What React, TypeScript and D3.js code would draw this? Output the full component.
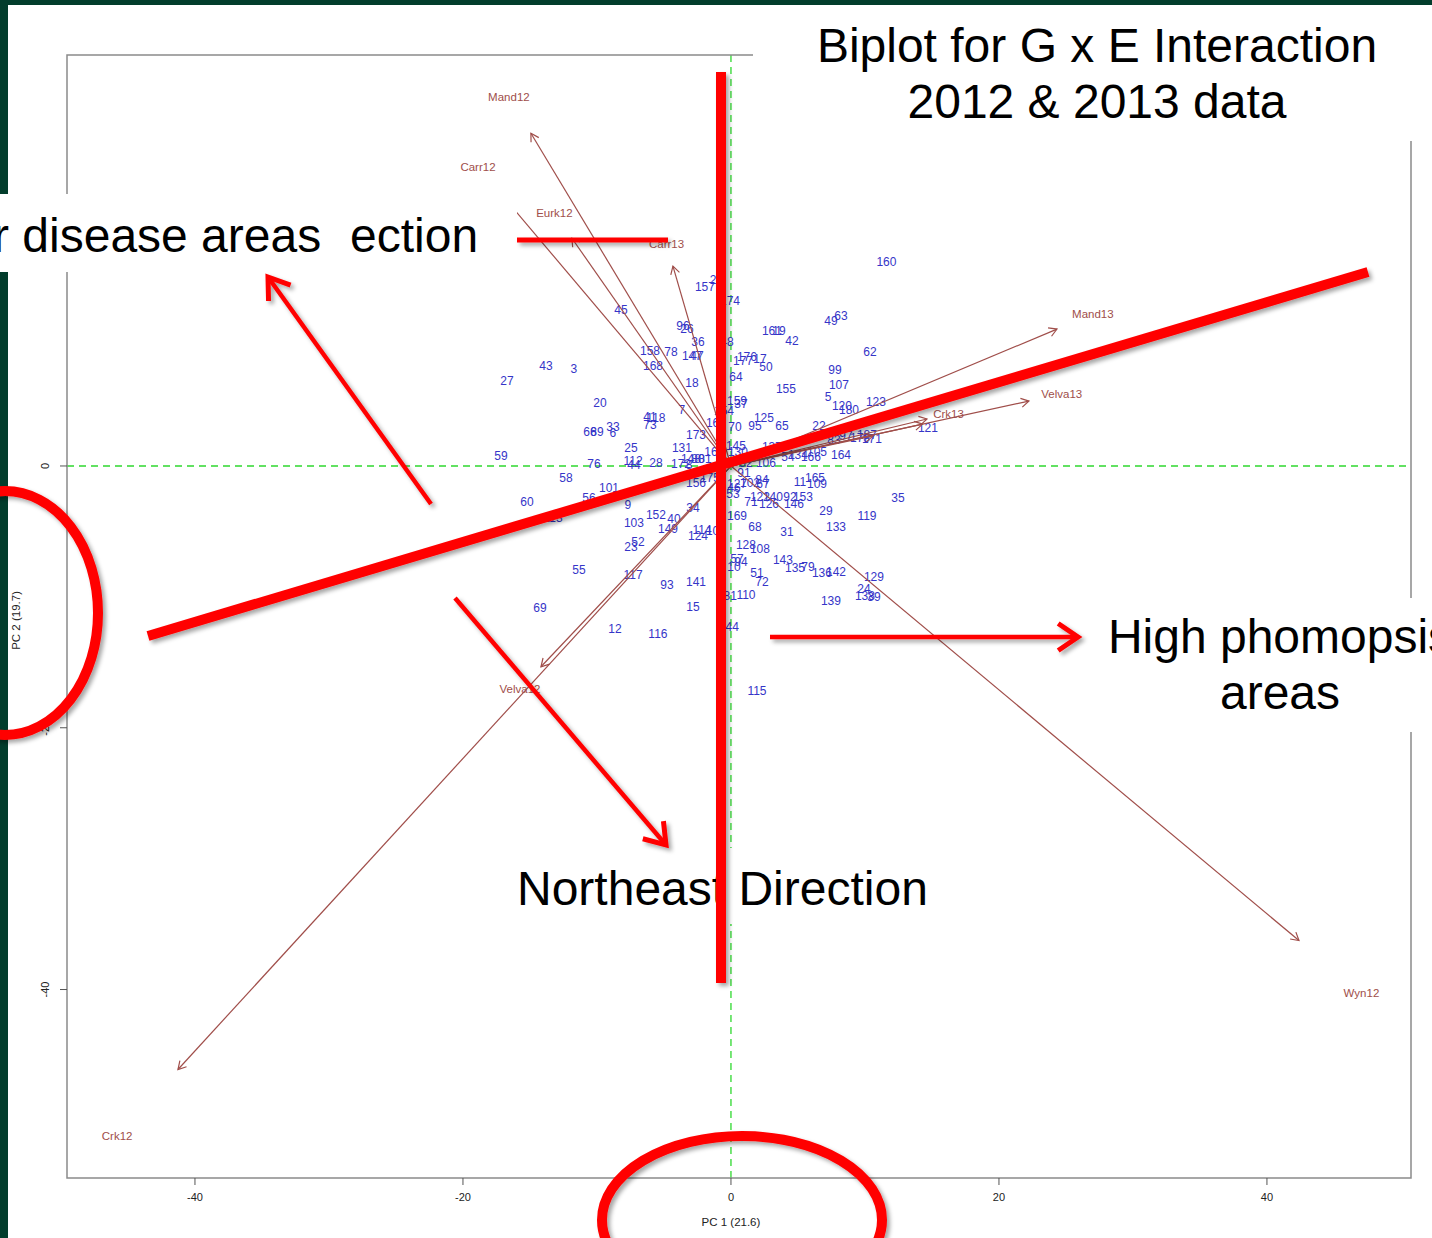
import React, { useRef, useEffect } from "react";
import * as d3 from "d3";

// genotype scores: [label, PC1, PC2]
const genotypes: [string, number, number][] = [
  ["160", 11.6, 15.6], ["157", -1.94, 13.66], ["2", -1.34, 14.2], ["174", -0.07, 12.6],
  ["45", -8.21, 11.91], ["49", 7.46, 11.07], ["63", 8.21, 11.45], ["161", 3.06, 10.31],
  ["19", 3.58, 10.31], ["96", -3.58, 10.69], ["26", -3.28, 10.46], ["42", 4.55, 9.54],
  ["36", -2.46, 9.47], ["48", -0.3, 9.47], ["62", 10.37, 8.7], ["158", -6.04, 8.78],
  ["78", -4.48, 8.7], ["147", -2.91, 8.4], ["47", -2.54, 8.4], ["176", 1.19, 8.32],
  ["177", 0.9, 8.02], ["17", 2.16, 8.17], ["50", 2.61, 7.56], ["168", -5.82, 7.63],
  ["43", -13.81, 7.63], ["3", -11.72, 7.4], ["99", 7.76, 7.33], ["27", -16.72, 6.49],
  ["64", 0.37, 6.79], ["18", -2.91, 6.34], ["155", 4.1, 5.88], ["107", 8.06, 6.18],
  ["5", 7.24, 5.27], ["159", 0.45, 4.96], ["37", 0.75, 4.73], ["20", -9.78, 4.81],
  ["120", 8.28, 4.58], ["180", 8.81, 4.27], ["123", 10.82, 4.89], ["154", -0.52, 4.2],
  ["7", -3.66, 4.27], ["41", -6.04, 3.74], ["118", -5.6, 3.66], ["73", -6.04, 3.13],
  ["125", 2.46, 3.66], ["95", 1.79, 3.05], ["65", 3.81, 3.05], ["70", 0.3, 2.98],
  ["163", -1.12, 3.28], ["33", -8.81, 2.98], ["6", -8.81, 2.52], ["66", -10.52, 2.6],
  ["89", -10.0, 2.6], ["22", 6.57, 3.05], ["173", -2.61, 2.37], ["83", 7.69, 1.98],
  ["97", 8.58, 2.29], ["187", 10.15, 2.37], ["178", 9.63, 2.14], ["171", 10.52, 2.06],
  ["121", 14.7, 2.9], ["25", -7.46, 1.37], ["131", -3.66, 1.37], ["16", -1.49, 1.07],
  ["145", 0.37, 1.53], ["130", 0.52, 1.07], ["137", 3.06, 1.45], ["54", 4.25, 0.69],
  ["134", 5.0, 0.84], ["166", 5.97, 0.69], ["105", 6.42, 1.07], ["164", 8.21, 0.84],
  ["59", -17.16, 0.76], ["76", -10.22, 0.15], ["112", -7.31, 0.38], ["44", -7.24, 0.08],
  ["28", -5.6, 0.23], ["172", -3.73, 0.15], ["148", -2.99, 0.53], ["80", -2.46, 0.53],
  ["81", -1.94, 0.53], ["8", -3.13, 0.08], ["106", 2.61, 0.23], ["32", 1.12, 0.23],
  ["58", -12.31, -0.92], ["101", -9.1, -1.68], ["156", -2.61, -1.3], ["175", -1.57, -0.92],
  ["91", 0.97, -0.53], ["84", 2.31, -1.07], ["11", 5.15, -1.22], ["165", 6.27, -0.92],
  ["109", 6.42, -1.37], ["127", 0.45, -1.37], ["102", 1.42, -1.3], ["67", 2.39, -1.37],
  ["46", 0.22, -1.68], ["53", 0.15, -2.14], ["56", -10.6, -2.44], ["60", -15.22, -2.75],
  ["34", -2.84, -3.21], ["9", -7.69, -2.98], ["122", 2.16, -2.37], ["140", 3.13, -2.37],
  ["92", 4.4, -2.37], ["153", 5.37, -2.37], ["126", 2.84, -2.9], ["146", 4.7, -2.9],
  ["71", 1.49, -2.75], ["35", 12.46, -2.44], ["29", 7.09, -3.44], ["119", 10.15, -3.82],
  ["152", -5.6, -3.74], ["40", -4.25, -4.05], ["169", 0.45, -3.82], ["103", -7.24, -4.35],
  ["149", -4.7, -4.81], ["114", -2.16, -4.89], ["124", -2.46, -5.34], ["104", -1.12, -4.96],
  ["68", 1.79, -4.66], ["133", 7.84, -4.66], ["31", 4.18, -5.04], ["52", -6.94, -5.8],
  ["23", -7.46, -6.18], ["128", 1.12, -6.03], ["108", 2.16, -6.34], ["55", -11.34, -7.94],
  ["57", 0.45, -7.1], ["94", 0.75, -7.33], ["10", 0.22, -7.71], ["143", 3.88, -7.18],
  ["135", 4.78, -7.79], ["79", 5.75, -7.71], ["136", 6.79, -8.17], ["142", 7.84, -8.09],
  ["129", 10.67, -8.47], ["117", -7.31, -8.32], ["51", 1.94, -8.17], ["72", 2.31, -8.85],
  ["93", -4.78, -9.08], ["141", -2.61, -8.85], ["24", 9.93, -9.39], ["138", 10.0, -9.92],
  ["39", 10.67, -10.0], ["181", -0.3, -9.92], ["110", 1.12, -9.85], ["139", 7.46, -10.31],
  ["69", -14.25, -10.84], ["15", -2.84, -10.76], ["12", -8.66, -12.44], ["116", -5.45, -12.82],
  ["144", -0.15, -12.29], ["115", 1.94, -17.18], ["113", -13.28, -3.97],
];

// environment vectors (arrow tips)
const envNames = ["Mand12", "Carr12", "Eurk12", "Carr13", "Mand13", "Velva13", "Crk13", "Velva12", "Crk12", "Wyn12", "Eurk13", "Wyn13"];
const envPC1 = [-14.93, -17.01, -11.87, -4.33, 24.33, 22.24, 14.63, -14.18, -41.27, 42.39, 14.3, 10.6];
const envPC2 = [25.42, 20.61, 17.4, 15.27, 10.46, 4.96, 3.59, -15.34, -46.11, -36.26, 3.2, 2.3];
const unlabelledEnvs = ["Eurk13", "Wyn13"];

const xTicks = [-40, -20, 0, 20, 40];
const yTicks = [-40, -20, 0, 20];

const W = 1432;
const H = 1238;
const FONT = "'Liberation Sans', Arial, sans-serif";

function App() {
  const svgRef = useRef<SVGSVGElement>(null);

  useEffect(() => {
    document.body.style.margin = "0";
    document.body.style.overflow = "hidden";

    const x = d3.scaleLinear().domain([-49.55, 50.75]).range([67, 1411]);
    const y = d3.scaleLinear().domain([31.4, -54.4]).range([55, 1178]);

    const svg = d3.select(svgRef.current);
    svg.selectAll("*").remove();

    const defs = svg.append("defs");
    const f = defs.append("filter").attr("id", "shadow").attr("x", "-20%").attr("y", "-20%").attr("width", "140%").attr("height", "140%");
    f.append("feDropShadow").attr("dx", 3).attr("dy", 3).attr("stdDeviation", 2).attr("flood-color", "#000").attr("flood-opacity", 0.35);

    // slide background
    svg.append("rect").attr("width", W).attr("height", H).attr("fill", "#fff");
    svg.append("rect").attr("width", 8).attr("height", H).attr("fill", "#023d2c");
    svg.append("rect").attr("width", W).attr("height", 5).attr("fill", "#023d2c");

    const plot = svg.append("g");

    // zero reference lines
    plot.append("line").attr("x1", x.range()[0]).attr("x2", x.range()[1]).attr("y1", y(0)).attr("y2", y(0))
      .attr("stroke", "#2fd82f").attr("stroke-width", 1.3).attr("stroke-dasharray", "7,5");
    plot.append("line").attr("x1", x(0)).attr("x2", x(0)).attr("y1", y.range()[0]).attr("y2", y.range()[1])
      .attr("stroke", "#2fd82f").attr("stroke-width", 1.3).attr("stroke-dasharray", "7,5");

    // frame
    plot.append("rect").attr("x", 67).attr("y", 55).attr("width", 1411 - 67).attr("height", 1178 - 55)
      .attr("fill", "none").attr("stroke", "#8a8a8a").attr("stroke-width", 1.5);

    // x axis
    const xa = plot.append("g").selectAll("g").data(xTicks).join("g");
    xa.append("line").attr("x1", (d) => x(d)).attr("x2", (d) => x(d)).attr("y1", 1178).attr("y2", 1185).attr("stroke", "#555");
    xa.append("text").attr("x", (d) => x(d)).attr("y", 1201).attr("text-anchor", "middle")
      .attr("font-family", FONT).attr("font-size", 11).attr("fill", "#222").text((d) => d);
    plot.append("text").attr("x", x(0)).attr("y", 1226).attr("text-anchor", "middle")
      .attr("font-family", FONT).attr("font-size", 11.5).attr("fill", "#222").text("PC 1 (21.6)");

    // y axis
    const ya = plot.append("g").selectAll("g").data(yTicks).join("g");
    ya.append("line").attr("x1", 60).attr("x2", 67).attr("y1", (d) => y(d)).attr("y2", (d) => y(d)).attr("stroke", "#555");
    ya.append("text").attr("transform", (d) => `translate(49,${y(d)}) rotate(-90)`).attr("text-anchor", "middle")
      .attr("font-family", FONT).attr("font-size", 11).attr("fill", "#222").text((d) => d);
    plot.append("text").attr("transform", `translate(20,${y(-11.8)}) rotate(-90)`).attr("text-anchor", "middle")
      .attr("font-family", FONT).attr("font-size", 11.5).attr("fill", "#222").text("PC 2 (19.7)");

    // genotype labels
    plot.append("g").selectAll("text").data(genotypes).join("text")
      .attr("x", (d) => x(d[1])).attr("y", (d) => y(d[2])).attr("dy", "0.35em")
      .attr("text-anchor", "middle").attr("font-family", FONT).attr("font-size", 12)
      .attr("fill", "#3535c8").text((d) => d[0]);

    // environment arrows
    const envColor = "#a04e4a";
    const envs = envNames.map((n, i) => ({ n, px: envPC1[i], py: envPC2[i] }));
    const eg = plot.append("g");
    envs.forEach((e) => {
      const x0 = x(0), y0 = y(0), x1 = x(e.px), y1 = y(e.py);
      const a = Math.atan2(y1 - y0, x1 - x0);
      const L = 9, sp = Math.PI / 6;
      eg.append("line").attr("x1", x0).attr("y1", y0).attr("x2", x1).attr("y2", y1)
        .attr("stroke", envColor).attr("stroke-width", 1.2);
      eg.append("path")
        .attr("d", `M${x1 - L * Math.cos(a - sp)},${y1 - L * Math.sin(a - sp)}L${x1},${y1}L${x1 - L * Math.cos(a + sp)},${y1 - L * Math.sin(a + sp)}`)
        .attr("fill", "none").attr("stroke", envColor).attr("stroke-width", 1.2);
      if (!unlabelledEnvs.includes(e.n)) {
        eg.append("text").attr("x", x(e.px * 1.11)).attr("y", y(e.py * 1.11)).attr("dy", "0.35em")
          .attr("text-anchor", "middle").attr("font-family", FONT).attr("font-size", 11.5)
          .attr("fill", envColor).text(e.n);
      }
    });

    // slide text boxes
    const big = (g: any, tx: number, ty: number, s: string, anchor = "start") =>
      g.append("text").attr("x", tx).attr("y", ty).attr("text-anchor", anchor)
        .attr("font-family", FONT).attr("font-size", 48).attr("fill", "#000").text(s);

    const boxes = svg.append("g");
    boxes.append("rect").attr("x", 753).attr("y", 5).attr("width", W - 753).attr("height", 136).attr("fill", "#fff");
    big(boxes, 1097, 62, "Biplot for G x E Interaction", "middle");
    big(boxes, 1097, 118, "2012 & 2013 data", "middle");

    boxes.append("rect").attr("x", 0).attr("y", 194).attr("width", 517).attr("height", 78).attr("fill", "#fff");
    big(boxes, -7, 252, "r disease areas");
    big(boxes, 350, 252, "ection");

    boxes.append("rect").attr("x", 1086).attr("y", 598).attr("width", W - 1086).attr("height", 134).attr("fill", "#fff");
    big(boxes, 1280, 653, "High phomopsis", "middle");
    big(boxes, 1280, 709, "areas", "middle");

    boxes.append("rect").attr("x", 505).attr("y", 848).attr("width", 430).attr("height", 76).attr("fill", "#fff");
    big(boxes, 517, 905, "Northeast Direction");

    // red annotations
    const red = svg.append("g").attr("filter", "url(#shadow)").attr("stroke", "#ff0000").attr("fill", "none");
    const arrow = (xA: number, yA: number, xB: number, yB: number) => {
      const a = Math.atan2(yB - yA, xB - xA);
      const L = 24, sp = 0.6;
      red.append("line").attr("x1", xA).attr("y1", yA).attr("x2", xB).attr("y2", yB).attr("stroke-width", 4.5);
      red.append("path")
        .attr("d", `M${xB - L * Math.cos(a - sp)},${yB - L * Math.sin(a - sp)}L${xB},${yB}L${xB - L * Math.cos(a + sp)},${yB - L * Math.sin(a + sp)}`)
        .attr("stroke-width", 5).attr("stroke-linejoin", "miter");
    };
    red.append("line").attr("x1", 721).attr("y1", 72).attr("x2", 721).attr("y2", 983).attr("stroke-width", 10);
    red.append("line").attr("x1", 148).attr("y1", 636).attr("x2", 1368).attr("y2", 272).attr("stroke-width", 10);
    red.append("line").attr("x1", 517).attr("y1", 240).attr("x2", 668).attr("y2", 240).attr("stroke-width", 5);
    arrow(431, 504, 268, 277);
    arrow(455, 598, 666, 845);
    arrow(770, 637, 1078, 637);
    red.append("ellipse").attr("cx", 5).attr("cy", 613).attr("rx", 93).attr("ry", 122).attr("stroke-width", 10);
    red.append("ellipse").attr("cx", 742).attr("cy", 1220).attr("rx", 140).attr("ry", 84).attr("stroke-width", 10);
  }, []);

  return <svg ref={svgRef} width={W} height={H} style={{ display: "block" }} />;
}

export default App;
